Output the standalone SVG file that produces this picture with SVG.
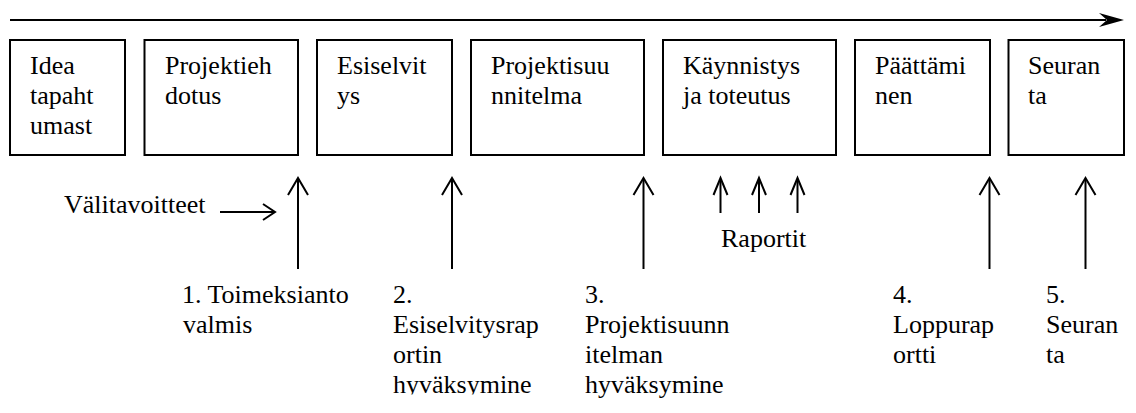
<svg xmlns="http://www.w3.org/2000/svg" width="1136" height="413" viewBox="0 0 1136 413">
<style>
  .box { fill: #fff; stroke: #000; stroke-width: 2; }
  text { font-family: 'Liberation Serif', Tinos, 'Times New Roman', Times, 'DejaVu Serif', serif; font-size: 26px; fill: #000; }
  .ln { stroke: #000; stroke-width: 2; fill: none; }
  .head { stroke: #000; stroke-width: 2; fill: none; stroke-linecap: butt; stroke-linejoin: miter; }
</style>
<defs>
  <clipPath id="clip2"><rect x="380" y="280" width="180" height="114.5"/></clipPath>
</defs>
<rect width="1136" height="413" fill="#fff"/>

<g id="connectors">
  <line class="ln" x1="10" y1="20" x2="1106" y2="20"/>
  <path d="M1124,20 L1099,13 L1107,20 L1099,27 Z" fill="#000"/>
  <line class="ln" x1="220" y1="212" x2="274" y2="212"/>
  <polyline class="head" points="263,204 275,212 263,220"/>
  <line class="ln" x1="298" y1="179" x2="298" y2="269"/>
  <polyline class="head" points="288,195 298,178 308,195"/>
  <line class="ln" x1="452" y1="179" x2="452" y2="269"/>
  <polyline class="head" points="442,195 452,178 462,195"/>
  <line class="ln" x1="643.5" y1="179" x2="643.5" y2="269"/>
  <polyline class="head" points="633.5,195 643.5,178 653.5,195"/>
  <line class="ln" x1="989.5" y1="179" x2="989.5" y2="269"/>
  <polyline class="head" points="979.5,195 989.5,178 999.5,195"/>
  <line class="ln" x1="1085.5" y1="179" x2="1085.5" y2="269"/>
  <polyline class="head" points="1075.5,195 1085.5,178 1095.5,195"/>
  <line class="ln" x1="720.5" y1="179" x2="720.5" y2="213"/>
  <polyline class="head" points="713.5,195 720.5,178 727.5,195"/>
  <line class="ln" x1="759" y1="179" x2="759" y2="213"/>
  <polyline class="head" points="752,195 759,178 766,195"/>
  <line class="ln" x1="797.5" y1="179" x2="797.5" y2="213"/>
  <polyline class="head" points="790.5,195 797.5,178 804.5,195"/>
</g>

<g id="node-idea">
  <rect class="box" x="10" y="40" width="115" height="115"/>
  <text x="30" y="74">Idea</text>
  <text x="30" y="104">tapaht</text>
  <text x="30" y="134">umast</text>
</g>
<g id="node-projektiehdotus">
  <rect class="box" x="144.5" y="40" width="153.5" height="115"/>
  <text x="165" y="74">Projektieh</text>
  <text x="165" y="104">dotus</text>
</g>
<g id="node-esiselvitys">
  <rect class="box" x="317" y="40" width="135" height="115"/>
  <text x="337" y="74">Esiselvit</text>
  <text x="337" y="104">ys</text>
</g>
<g id="node-projektisuunnitelma">
  <rect class="box" x="471" y="40" width="173" height="115"/>
  <text x="491" y="74">Projektisuu</text>
  <text x="491" y="104">nnitelma</text>
</g>
<g id="node-kaynnistys">
  <rect class="box" x="663" y="40" width="173" height="115"/>
  <text x="683" y="74">Käynnistys</text>
  <text x="683" y="104">ja toteutus</text>
</g>
<g id="node-paattaminen">
  <rect class="box" x="855" y="40" width="135" height="115"/>
  <text x="875" y="74">Päättämi</text>
  <text x="875" y="104">nen</text>
</g>
<g id="node-seuranta">
  <rect class="box" x="1008.5" y="40" width="115.5" height="115"/>
  <text x="1028" y="74">Seuran</text>
  <text x="1028" y="104">ta</text>
</g>

<g id="label-valitavoitteet">
  <text x="64" y="213">Välitavoitteet</text>
</g>
<g id="label-raportit">
  <text x="721" y="247">Raportit</text>
</g>
<g id="milestone-1">
  <text x="182" y="303">1. Toimeksianto</text>
  <text x="183" y="333">valmis</text>
</g>
<g id="milestone-2" clip-path="url(#clip2)">
  <text x="393" y="303">2.</text>
  <text x="393" y="333">Esiselvitysrap</text>
  <text x="393" y="363">ortin</text>
  <text x="393" y="393">hyväksymine</text>
</g>
<g id="milestone-3">
  <text x="585" y="303">3.</text>
  <text x="585" y="333">Projektisuunn</text>
  <text x="585" y="363">itelman</text>
  <text x="585" y="393">hyväksymine</text>
</g>
<g id="milestone-4">
  <text x="893" y="303">4.</text>
  <text x="893" y="333">Loppurap</text>
  <text x="893" y="363">ortti</text>
</g>
<g id="milestone-5">
  <text x="1046" y="303">5.</text>
  <text x="1046" y="333">Seuran</text>
  <text x="1046" y="363">ta</text>
</g>
</svg>
